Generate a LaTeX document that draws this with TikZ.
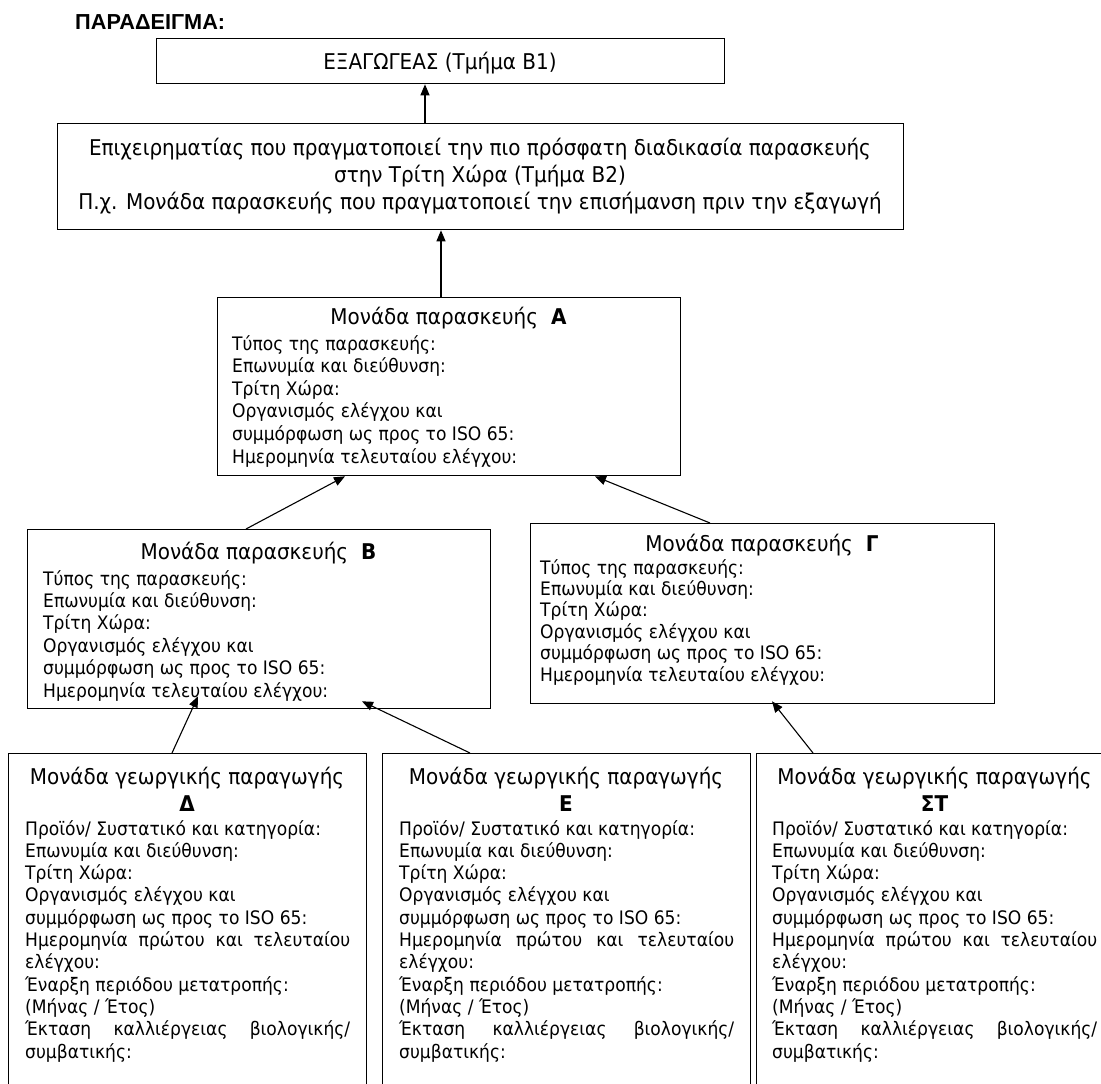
\documentclass[tikz,border=0pt]{standalone}
\usepackage{fontspec}
\setmainfont{DejaVu Sans}[FakeStretch=0.92]
\newfontfamily\arialfont{Liberation Sans}
\usetikzlibrary{arrows.meta,calc}
\newcommand\bodyf{\fontsize{18.6pt}{22.4pt}\selectfont}
\newcommand\titf{\fontsize{21.7pt}{26pt}\selectfont}
\tikzset{
  box/.style={draw, line width=1.3pt, anchor=north west, inner sep=0pt, rectangle},
  bodytxt/.style={anchor=base west, inner sep=0pt, font=\bodyf},
  titletxt/.style={anchor=base, inner sep=0pt, font=\titf},
  arr/.style={-{Triangle[length=11pt,width=9pt]}, line width=1.1pt},
}
\newcommand\prepbox[7]{%
  \node[titletxt] (#1t) at (#3,#4) {Μονάδα παρασκευής\hspace{0.6em}\textbf{#7}};
  \foreach \t [count=\i] in {Τύπος της παρασκευής:,Επωνυμία και διεύθυνση:,Τρίτη Χώρα:,Οργανισμός ελέγχου και,συμμόρφωση ως προς το ISO 65:,Ημερομηνία τελευταίου ελέγχου:}
    \node[bodytxt] (#1l\i) at (#2,{#5+(\i-1)*#6}) {\t};
}
\newcommand\farmbox[5]{% name, text x, text width, title centre x, letter
  \node[titletxt] (#1t) at (#4,784) {Μονάδα γεωργικής παραγωγής};
  \node[titletxt] (#1u) at (#4,811) {\textbf{#5}};
  \foreach \t [count=\i] in {Προϊόν/ Συστατικό και κατηγορία:,Επωνυμία και διεύθυνση:,Τρίτη Χώρα:,Οργανισμός ελέγχου και,συμμόρφωση ως προς το ISO 65:,{\hbox to #3pt{Ημερομηνία\hfill πρώτου\hfill και\hfill τελευταίου}},ελέγχου:,Έναρξη περιόδου μετατροπής:,{(Μήνας / Έτος)},{\hbox to #3pt{Έκταση\hfill καλλιέργειας\hfill βιολογικής/}},συμβατικής:}
    \node[bodytxt] (#1l\i) at (#2,{835+(\i-1)*22.3}) {\t};
}
\begin{document}
\begin{tikzpicture}[x=1pt,y=-1pt]
\clip (0,0) rectangle (1101,1084);
\fill[white] (0,0) rectangle (1101,1084);

\node[anchor=base west, inner sep=0pt, font=\arialfont\bfseries\fontsize{21.7pt}{26pt}\selectfont] (ttl) at (75,30) {ΠΑΡΑΔΕΙΓΜΑ:};

% boxes
\node[box, minimum width=568pt, minimum height=45pt] (ex) at (156,38) {};
\node[box, minimum width=846pt, minimum height=106pt] (op) at (57,123) {};
\node[box, minimum width=463pt, minimum height=178pt] (A) at (217,297) {};
\node[box, minimum width=463pt, minimum height=179pt] (B) at (27,529) {};
\node[box, minimum width=464pt, minimum height=180pt] (G) at (530,523) {};
\node[box, minimum width=358pt, minimum height=420pt] (D) at (8,753) {};
\node[box, minimum width=368pt, minimum height=420pt] (E) at (382,753) {};
\node[box, minimum width=357pt, minimum height=420pt] (S) at (756,753) {};

% texts
\node[titletxt] (ext) at (440,69) {ΕΞΑΓΩΓΕΑΣ (Τμήμα Β1)};
\node[titletxt] (op1) at (480,155) {Επιχειρηματίας που πραγματοποιεί την πιο πρόσφατη διαδικασία παρασκευής};
\node[titletxt] (op2) at (480,182) {στην Τρίτη Χώρα (Τμήμα Β2)};
\node[titletxt] (op3) at (480,209) {Π.χ. Μονάδα παρασκευής που πραγματοποιεί την επισήμανση πριν την εξαγωγή};

\prepbox{A}{232}{448.5}{324}{350}{22.6}{Α}
\prepbox{B}{43}{258.5}{559}{585}{22.4}{Β}
\prepbox{G}{540}{762}{551}{574}{21.4}{Γ}

\farmbox{D}{25}{325}{187}{Δ}
\farmbox{E}{399}{335}{566}{Ε}
\farmbox{S}{772}{325}{934.5}{ΣΤ}

% connectors
\draw[arr] (425,0 |- op.north) -- (425,0 |- ex.south);
\draw[arr] (441,0 |- A.north) -- (441,0 |- op.south);
\draw[arr] (246,0 |- B.north) -- (345,0 |- A.south);
\draw[arr] (710,0 |- G.north) -- (595,0 |- A.south);
\draw[arr] (172,0 |- D.north) -- ($(198,0 |- B.south)+(0,-13)$);
\draw[arr] (470,0 |- E.north) -- ($(362,0 |- B.south)+(0,-8)$);
\draw[arr] (813,0 |- S.north) -- ($(772,0 |- G.south)+(0,-3)$);
\end{tikzpicture}
\end{document}
